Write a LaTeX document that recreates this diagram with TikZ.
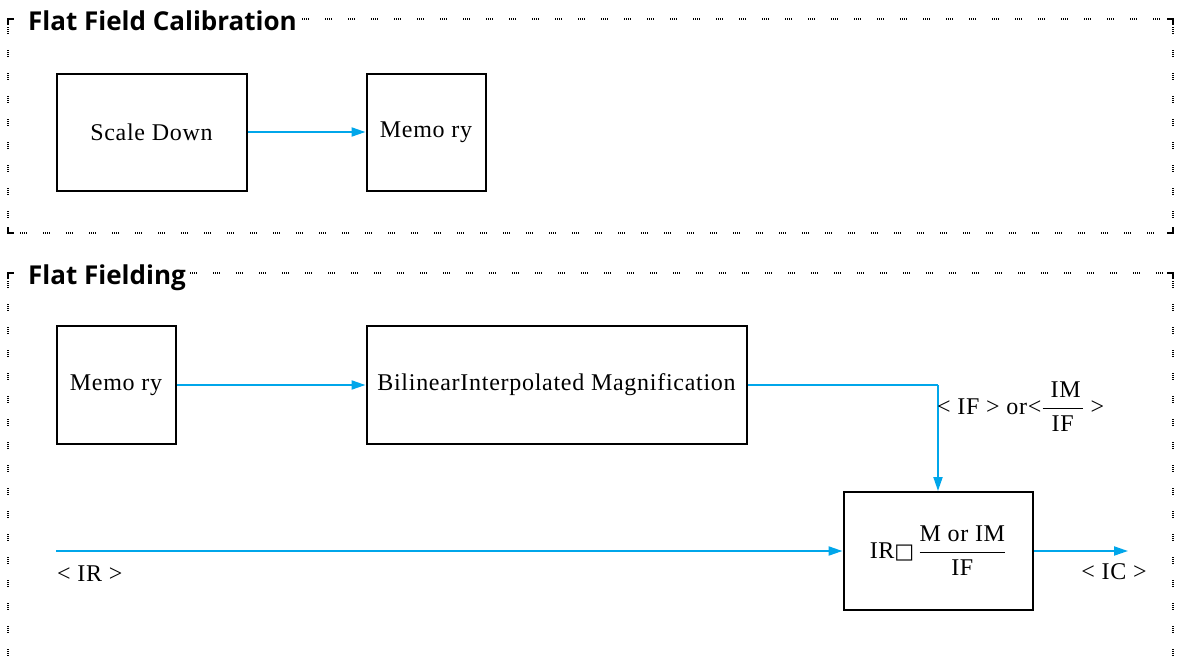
\documentclass[tikz,border=0pt]{standalone}
\usepackage{amsmath,amssymb}
\usepackage{fontspec}
\setmainfont{Liberation Serif}[LetterSpace=3]
\newfontfamily\headfont{Open Sans}
\newfontfamily\symfont{DejaVu Sans}
\usetikzlibrary{arrows.meta}
\definecolor{flow}{HTML}{00A6EA}
\newcommand{\thkfrac}[2]{\genfrac{}{}{1.6pt}{0}{\text{#1}}{\text{#2}}}
\tikzset{
  box/.style={draw=black, line width=2pt, fill=white, font=\fontsize{24}{28}\selectfont, inner sep=2pt},
  flowline/.style={draw=flow, line width=2pt, -{Triangle[length=14pt,width=9pt]}},
  plainflow/.style={draw=flow, line width=2pt},
  lbl/.style={font=\fontsize{24}{28}\selectfont, inner sep=0pt},
  head/.style={font=\headfont\bfseries\fontsize{26}{30}\selectfont, inner sep=0pt, anchor=base west},
  grpborder/.style={draw=black, line width=1.5pt, dash pattern=on 1pt off 1pt on 1pt off 1pt on 1pt off 1pt on 1pt off 16pt},
  corner/.style={draw=black, line width=2.5pt}
}
\begin{document}
\begin{tikzpicture}[x=1pt,y=-1pt]
\useasboundingbox (0,0) rectangle (1179,656);
% ---------- Group 1 ----------
\node[head] (h1) at (28,30) {Flat Field Calibration};
\draw[grpborder] (302,19) -- (1170,19);
\draw[grpborder] (8,27) -- (8,229);
\draw[grpborder] (1173,27) -- (1173,229);
\draw[grpborder] (20,233) -- (1168,233);
\draw[corner] (8,25) -- (8,19) -- (14,19);
\draw[corner] (1167,19) -- (1173,19) -- (1173,25);
\draw[corner] (8,227) -- (8,233) -- (14,233);
\draw[corner] (1167,233) -- (1173,233) -- (1173,227);

\node[box, minimum width=190pt, minimum height=117pt] (scale) at (151.5,132) {Scale Down};
\node[box, minimum width=119pt, minimum height=117pt] (mem1) at (426,132) {Memo ry};
\draw[flowline] (scale.east) -- (mem1.west);

% ---------- Group 2 ----------
\node[head] (h2) at (28,284) {Flat Fielding};
\draw[grpborder] (190,273) -- (1170,273);
\draw[grpborder] (8,281) -- (8,656);
\draw[grpborder] (1173,281) -- (1173,656);
\draw[corner] (8,279) -- (8,273) -- (14,273);
\draw[corner] (1167,273) -- (1173,273) -- (1173,279);

\node[box, minimum width=119pt, minimum height=118pt] (mem2) at (116,385) {Memo ry};
\node[box, minimum width=380pt, minimum height=118pt] (bil) at (556.5,385) {BilinearInterpolated Magnification};
\node[box, minimum width=189pt, minimum height=118pt] (calc) at (938,551)
  {IR{\symfont\fontsize{21}{24}\selectfont □}\,$\thkfrac{M or IM}{IF}$};
\coordinate (src) at (56,551);
\coordinate (out) at (1128,551);
\coordinate (turn) at (938,385);

\draw[flowline] (mem2.east) -- (bil.west);
\draw[plainflow] (bil.east) -- (turn);
\draw[flowline] (turn) -- (calc.north);
\draw[flowline] (src) -- (calc.west);
\draw[flowline] (calc.east) -- (out);

\node[lbl, anchor=west] (iflbl) at (937,407) {< IF > or<$\thkfrac{\hspace{8pt}IM\hspace{2pt}}{IF}$ >};
\node[lbl, anchor=north west] (irlbl) at (57,566) {< IR >};
\node[lbl, anchor=north] (iclbl) at (1114,563) {< IC >};
\end{tikzpicture}
\end{document}
